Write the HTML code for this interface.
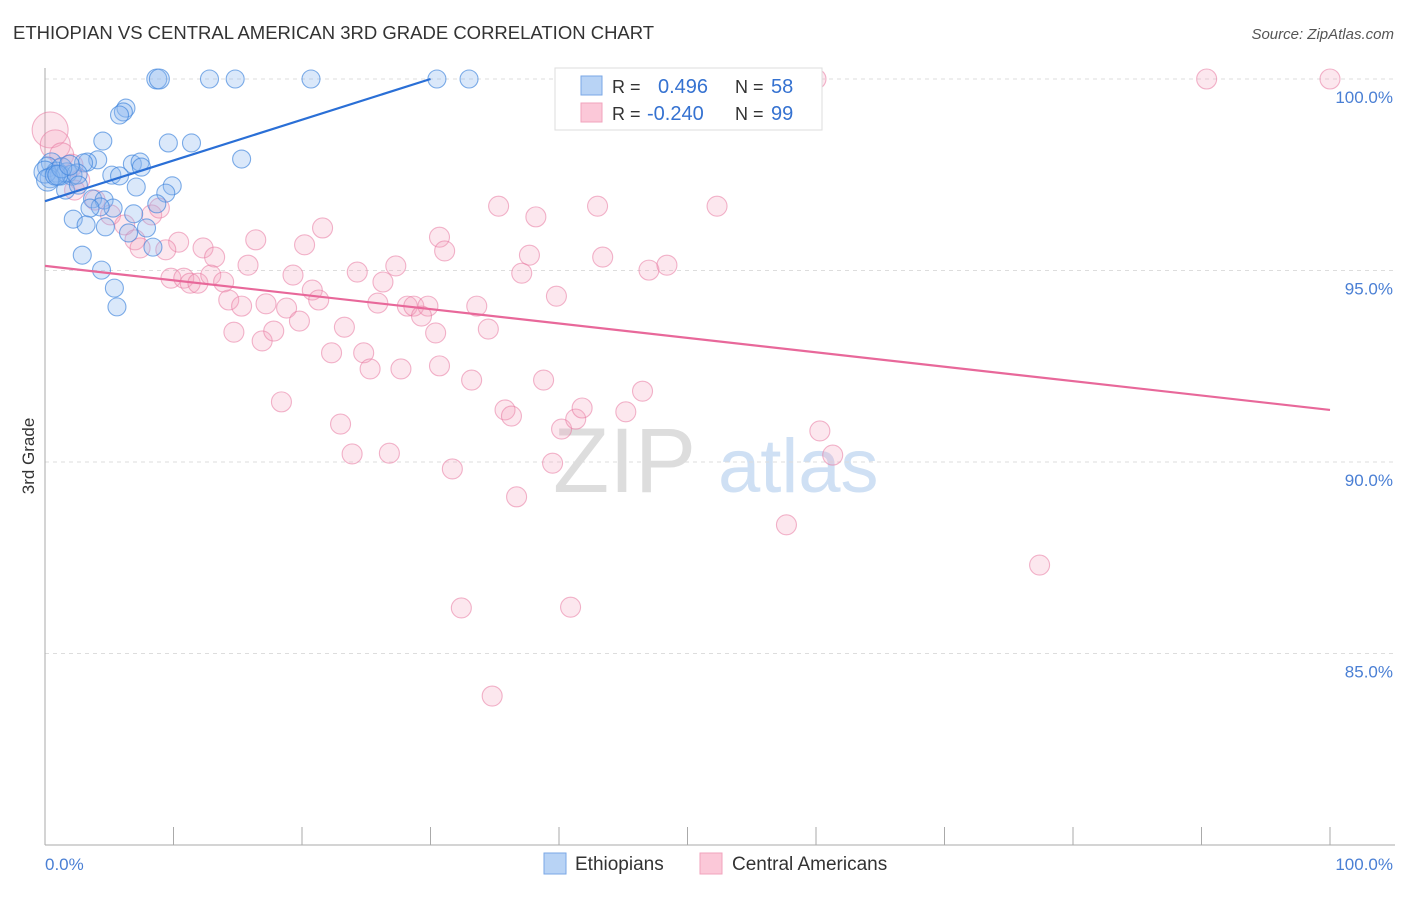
<!DOCTYPE html>
<html><head><meta charset="utf-8"><style>
body{margin:0;background:#fff;font-family:"Liberation Sans",sans-serif;}
svg text{font-family:"Liberation Sans",sans-serif;}
</style></head><body>
<svg id="chart" width="1406" height="892" viewBox="0 0 1406 892" xmlns="http://www.w3.org/2000/svg">
<text x="13" y="39" font-size="18.5" fill="#333">ETHIOPIAN VS CENTRAL AMERICAN 3RD GRADE CORRELATION CHART</text>
<text x="1394" y="39" font-size="15" fill="#555" text-anchor="end" font-style="italic">Source: ZipAtlas.com</text>
<g>
<text x="553" y="492" font-size="92" fill="#ddd" font-family="Liberation Serif,serif">ZIP</text>
<text x="718" y="492" font-size="76" fill="#cfe0f4">atlas</text>
</g>
<g id="grid"></g>
<g id="axes"></g>
<g id="pts"></g>
<g id="trend"></g>
<text transform="translate(34,456) rotate(-90)" font-size="17" fill="#333" text-anchor="middle">3rd Grade</text>
<text x="45" y="870" font-size="17" fill="#4a7fd4">0.0%</text>
<text x="1393" y="870" font-size="17" fill="#4a7fd4" text-anchor="end">100.0%</text>
<g>
<rect x="555" y="68" width="267" height="62" fill="#fff" stroke="#ddd"/>
<rect x="581" y="76" width="21" height="19" fill="#b8d3f5" stroke="#7aa7e6"/>
<rect x="581" y="103" width="21" height="19" fill="#fbc8d8" stroke="#f2a3bd"/>
<text x="612" y="93" font-size="18" fill="#333">R =</text>
<text x="658" y="93" font-size="20" fill="#3572d1">0.496</text>
<text x="735" y="93" font-size="18" fill="#333">N =</text>
<text x="771" y="93" font-size="20" fill="#3572d1">58</text>
<text x="612" y="120" font-size="18" fill="#333">R =</text>
<text x="647" y="120" font-size="20" fill="#3572d1">-0.240</text>
<text x="735" y="120" font-size="18" fill="#333">N =</text>
<text x="771" y="120" font-size="20" fill="#3572d1">99</text>
</g>
<g>
<rect x="544" y="853" width="22" height="21" fill="#b8d3f5" stroke="#7aa7e6"/>
<text x="575" y="870" font-size="19" fill="#333">Ethiopians</text>
</g>
<g>
<rect x="700" y="853" width="22" height="21" fill="#fbc8d8" stroke="#f2a3bd"/>
<text x="732" y="870" font-size="19" fill="#333">Central Americans</text>
</g>
</svg>
<script>
const yTicks=[100,95,90,85];
const xTicks=[0,10,20,30,40,50,60,70,80,90,100];
const blueX=[8.7,8.9,12.8,14.8,20.7,30.5,33.0,6.3,6.1,5.8,4.5,9.6,11.4,15.3,4.1,3.3,3.0,6.8,7.4,7.5,0.5,0.2,0.9,1.2,1.7,2.1,2.5,0.4,5.2,5.8,7.1,9.9,9.4,1.6,3.7,4.6,8.7,5.3,4.3,3.5,6.9,2.2,3.2,4.7,7.9,8.4,2.9,4.4,5.4,5.6,0,0.2,0.8,1.3,2.6,6.5,1.0,1.9];
const blueY=[100,100,100,100,100,100,100,99.24,99.14,99.06,98.38,98.33,98.33,97.91,97.89,97.83,97.81,97.78,97.83,97.70,97.81,97.70,97.57,97.49,97.55,97.49,97.52,97.42,97.49,97.47,97.18,97.21,97.02,97.10,96.87,96.84,96.74,96.63,96.66,96.63,96.48,96.34,96.19,96.14,96.11,95.61,95.40,95.01,94.54,94.05,97.57,97.36,97.49,97.68,97.23,95.98,97.49,97.75];
const blueR=[10,10,9,9,9,9,9,9,9,9,9,9,9,9,9,9,9,9,9,9,10,10,10,10,10,10,10,10,9,9,9,9,9,9,9,9,9,9,9,9,9,9,9,9,9,9,9,9,9,9,11,11,10,10,9,9,10,10];
const pinkX=[0.4,0.8,1.3,2.1,2.7,2.3,3.9,5.1,6.2,7.0,7.4,8.3,8.9,10.4,9.4,12.3,13.2,16.4,15.8,20.2,21.6,24.3,26.3,27.3,30.7,31.1,35.3,38.2,37.7,37.1,43.0,43.4,47.0,48.4,52.3,9.8,10.8,11.3,11.9,12.9,13.9,14.3,15.3,17.2,19.3,18.8,20.8,21.3,19.8,14.7,16.9,17.8,23.3,25.9,28.2,28.7,29.8,29.3,30.4,33.6,34.5,39.8,22.3,24.8,25.3,27.7,30.7,33.2,38.8,46.5,18.4,23.0,23.9,26.8,31.7,35.8,36.3,36.7,40.2,41.3,41.8,45.2,39.5,32.4,40.9,34.8,57.7,60.3,61.3,77.4,49.1,60.0,90.4,100];
const pinkY=[98.67,98.28,98.02,97.75,97.36,97.10,96.84,96.45,96.19,95.80,95.59,96.45,96.63,95.74,95.54,95.59,95.35,95.80,95.14,95.67,96.11,94.96,94.70,95.12,95.87,95.51,96.68,96.40,95.40,94.93,96.68,95.35,95.01,95.14,96.68,94.80,94.80,94.67,94.67,94.88,94.70,94.23,94.07,94.13,94.88,94.02,94.49,94.23,93.68,93.39,93.16,93.42,93.52,94.15,94.07,94.07,94.07,93.81,93.37,94.07,93.47,94.33,92.85,92.85,92.43,92.43,92.51,92.14,92.14,91.85,91.57,90.99,90.21,90.23,89.82,91.36,91.20,89.09,90.86,91.12,91.41,91.31,89.97,86.19,86.21,83.89,88.36,90.81,90.18,87.31,100,100,100,100];
const pinkR=[18,15,12,11,10,10,10,10,10,10,10,10,10,10,10,10,10,10,10,10,10,10,10,10,10,10,10,10,10,10,10,10,10,10,10,10,10,10,10,10,10,10,10,10,10,10,10,10,10,10,10,10,10,10,10,10,10,10,10,10,10,10,10,10,10,10,10,10,10,10,10,10,10,10,10,10,10,10,10,10,10,10,10,10,10,10,10,10,10,10,10,10,10,10];
const blueTrendX=[0,30];
const blueTrendY=[96.81,100];
const pinkTrendX=[0,100];
const pinkTrendY=[95.12,91.36];
const NS="http://www.w3.org/2000/svg";
function sx(v){return 45+v*12.85;}
function sy(v){return 79+(100-v)*38.3;}
function mk(tag,attrs,parent){const e=document.createElementNS(NS,tag);for(const k in attrs)e.setAttribute(k,attrs[k]);parent.appendChild(e);return e;}
const grid=document.getElementById('grid'),axes=document.getElementById('axes'),pts=document.getElementById('pts'),trend=document.getElementById('trend');
yTicks.forEach(t=>{
 const l=mk('line',{x1:45,x2:1395,y1:sy(t),y2:sy(t),stroke:'#ddd','stroke-dasharray':'4,4'},grid);
 
 
 const tx=mk('text',{x:1393,y:sy(t)+24,'font-size':17,fill:'#4a7fd4','text-anchor':'end'},grid);
 tx.textContent=t.toFixed(1)+'%';
 
 
});
const ya=mk('line',{x1:45,x2:45,y1:68,y2:845,stroke:'#aaa'},axes);


const xa=mk('line',{x1:45,x2:1395,y1:845,y2:845,stroke:'#aaa'},axes);


xTicks.forEach(t=>{
 const l=mk('line',{x1:sx(t),x2:sx(t),y1:827,y2:845,stroke:'#aaa'},axes);
 
 
});
pinkX.forEach((v,i)=>{
 const c=mk('circle',{cx:sx(v),cy:sy(pinkY[i]),r:pinkR[i],fill:'rgba(244,160,188,0.25)',stroke:'rgba(232,120,160,0.55)','stroke-width':1.1},pts);
 
 
});
blueX.forEach((v,i)=>{
 const c=mk('circle',{cx:sx(v),cy:sy(blueY[i]),r:blueR[i],fill:'rgba(140,185,240,0.32)',stroke:'rgba(60,130,220,0.65)','stroke-width':1.1},pts);
 
 
});
const bt=mk('line',{x1:sx(blueTrendX[0]),y1:sy(blueTrendY[0]),x2:sx(blueTrendX[1]),y2:sy(blueTrendY[1]),stroke:'#2a6fd6','stroke-width':2.2},trend);


const pt=mk('line',{x1:sx(pinkTrendX[0]),y1:sy(pinkTrendY[0]),x2:sx(pinkTrendX[1]),y2:sy(pinkTrendY[1]),stroke:'#e8689a','stroke-width':2.2},trend);


</script>
</body></html>
